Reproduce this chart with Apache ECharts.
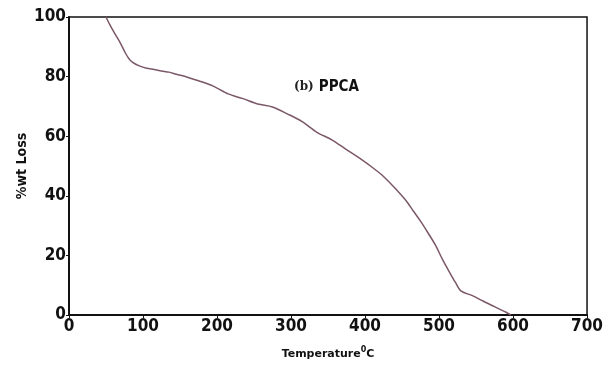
<!DOCTYPE html>
<html>
<head>
<meta charset="utf-8">
<script src="https://cdn.jsdelivr.net/npm/echarts@6/dist/echarts.min.js"></script>
<style>html,body{margin:0;padding:0;background:#fff}#c{width:606px;height:365px}</style>
</head>
<body>
<div id="c"></div>
<script>
// Temperature (°C)
var temperature = [50, 56, 63, 70, 76, 81, 86, 95, 105, 115, 125, 135, 145, 160, 175, 195, 215, 235, 255, 275, 295, 315, 335, 355, 375, 395, 410, 425, 440, 455, 465, 475, 485, 495, 505, 515, 522, 530, 545, 560, 575, 590, 597];
// % wt loss
var wtLoss = [100, 97, 94, 91, 88, 86, 84.8, 83.6, 82.8, 82.4, 81.9, 81.5, 80.8, 79.8, 78.6, 76.8, 74.2, 72.6, 70.8, 69.8, 67.5, 64.9, 61.3, 58.8, 55.5, 52.2, 49.5, 46.5, 42.7, 38.5, 35, 31.5, 27.6, 23.5, 18.5, 14, 11, 8, 6.5, 4.6, 2.8, 1, 0];
var xTicks = [0, 100, 200, 300, 400, 500, 600, 700];
var yTicks = [0, 20, 40, 60, 80, 100];

var data = temperature.map(function (t, i) { return [t, wtLoss[i]]; });
var narrow = '"DejaVu Sans", sans-serif';
var cond = 'bold condensed';

var chart = echarts.init(document.getElementById('c'), null, {renderer: 'canvas'});
chart.setOption({
  animation: false,
  backgroundColor: '#fff',
  title: {
    text: '{b|(b)} {p|PPCA}',
    left: 289, top: 73,
    textStyle: {
      rich: {
        b: {fontFamily: '"DejaVu Serif", serif', fontSize: 12, color: '#222', fontWeight: 'bold'},
        p: {fontFamily: narrow, fontSize: 15, color: '#111', fontWeight: cond}
      }
    }
  },
  grid: {
    left: 69, right: 17, top: 17, bottom: 44,
    show: true, borderColor: '#111', borderWidth: 1.5, backgroundColor: '#fff'
  },
  xAxis: {
    type: 'value', min: xTicks[0], max: xTicks[xTicks.length - 1], interval: 100,
    name: '{t|Temperature}{s|0}{t|C}',
    nameLocation: 'middle', nameGap: 31, nameMoveOverlap: false,
    nameTextStyle: {
      rich: {
        t: {fontFamily: '"DejaVu Sans", sans-serif', fontSize: 11, color: '#111', fontWeight: 'bold', verticalAlign: 'bottom'},
        s: {fontFamily: '"DejaVu Sans", sans-serif', fontSize: 8, color: '#111', fontWeight: 'bold', verticalAlign: 'top', padding: [0, 0, 6, 0]}
      }
    },
    axisLine: {show: true, onZero: false, lineStyle: {color: '#111', width: 2}},
    axisTick: {show: true, length: 3, inside: false, lineStyle: {color: '#111', width: 1}},
    axisLabel: {margin: 3, fontFamily: narrow, fontWeight: cond, fontSize: 17, color: '#111', showMaxLabel: true, showMinLabel: true},
    splitLine: {show: false}
  },
  yAxis: {
    type: 'value', min: yTicks[0], max: yTicks[yTicks.length - 1], interval: 20,
    name: '%wt Loss',
    nameLocation: 'middle', nameGap: 40, nameMoveOverlap: false,
    nameTextStyle: {fontFamily: narrow, fontWeight: cond, fontSize: 14, color: '#111'},
    axisLine: {show: true, onZero: false, lineStyle: {color: '#111', width: 2}},
    axisTick: {show: true, length: 3, lineStyle: {color: '#111', width: 1}},
    axisLabel: {margin: 3, fontFamily: narrow, fontWeight: cond, fontSize: 17, color: '#111'},
    splitLine: {show: false}
  },
  series: [{
    type: 'line',
    data: data,
    showSymbol: false,
    smooth: 0.3,
    lineStyle: {color: '#7b5868', width: 1.5}
  }]
});
</script>
</body>
</html>
